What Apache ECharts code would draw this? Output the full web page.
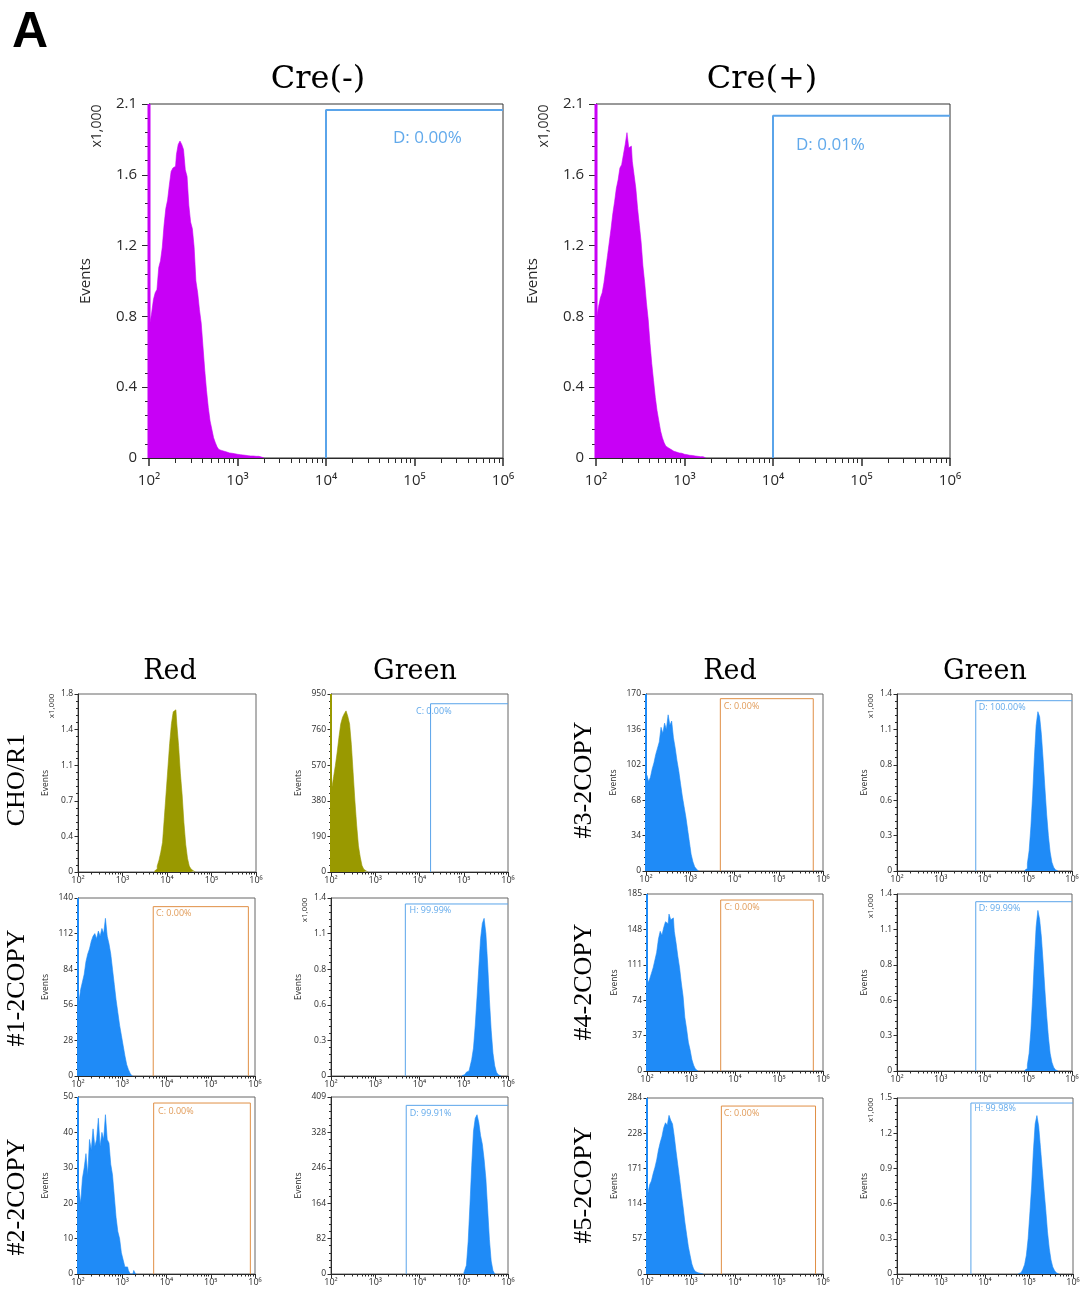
<!DOCTYPE html>
<html>
<head>
<meta charset="utf-8">
<script src="https://cdn.jsdelivr.net/npm/echarts@6/dist/echarts.min.js"></script>
<style>
  html, body { margin: 0; background: #fff; }
  #chart { width: 1080px; height: 1290px; }
</style>
</head>
<body>
<div id="chart"></div>
<script>
// ---- data (x = log10 of intensity, bins start at `...Start`, counts) ----
const decades = [2, 3, 4, 5, 6]
const decadeLabels = ['10²', '10³', '10⁴', '10⁵', '10⁶']

// Cre(-) / Cre(+), x1,000 events, 0.02 log bins from 10^2
const creNegCounts = [0.78, 0.80, 0.86, 0.94, 0.98, 1.00, 1.13, 1.17, 1.25, 1.38, 1.48, 1.53, 1.62, 1.70, 1.72, 1.73, 1.80, 1.86, 1.88, 1.86,
  1.83, 1.71, 1.67, 1.50, 1.40, 1.36, 1.25, 1.05, 0.98, 0.88, 0.80, 0.66, 0.52, 0.40, 0.30, 0.22, 0.17, 0.12, 0.09, 0.065,
  0.05, 0.045, 0.04, 0.035, 0.035, 0.03, 0.03, 0.028, 0.025, 0.025, 0.022, 0.02, 0.02, 0.018, 0.016, 0.015, 0.014, 0.012, 0.01, 0.012,
  0.01, 0.008, 0.01, 0.006, 0.008, 0]
const crePosCounts = [0.80, 0.84, 0.90, 0.95, 0.98, 1.04, 1.12, 1.20, 1.28, 1.36, 1.45, 1.52, 1.60, 1.65, 1.72, 1.74, 1.80, 1.86, 1.93, 1.84,
  1.85, 1.76, 1.68, 1.60, 1.48, 1.38, 1.28, 1.14, 1.04, 0.92, 0.82, 0.68, 0.56, 0.46, 0.36, 0.28, 0.22, 0.16, 0.12, 0.09,
  0.07, 0.06, 0.05, 0.045, 0.04, 0.035, 0.03, 0.03, 0.028, 0.025, 0.022, 0.02, 0.018, 0.016, 0.015, 0.012, 0.012, 0.01, 0.01, 0.008,
  0.008, 0.006, 0]
const creYLabels = ['0', '0.4', '0.8', '1.2', '1.6', '2.1']

// small panels, 0.04 log bins
const choRedStart = 3.72
const choRedCounts = [0.01, 0.03, 0.06, 0.12, 0.20, 0.30, 0.55, 0.80, 1.05, 1.30, 1.50, 1.62, 1.64, 1.50, 1.28, 1.00, 0.78, 0.50, 0.28, 0.14, 0.06, 0.03, 0.01, 0]
const choGreenStart = 2.0
const choGreenCounts = [380, 450, 510, 570, 640, 720, 790, 825, 845, 860, 830, 790, 680, 530, 380, 250, 140, 80, 35, 15, 5, 0]
const r3Start = 2.0
const r3Counts = [80, 92, 86, 90, 98, 104, 112, 118, 124, 138, 132, 142, 136, 150, 140, 144, 128, 118, 106, 96, 84, 72, 62, 52, 40, 28, 16, 9, 4, 2, 0]
const g3Start = 4.92
const g3Counts = [0.005, 0.02, 0.06, 0.16, 0.35, 0.60, 0.90, 1.15, 1.26, 1.22, 1.08, 0.88, 0.66, 0.45, 0.28, 0.15, 0.07, 0.03, 0.01, 0]
const r1Start = 2.0
const r1Counts = [50, 58, 68, 74, 80, 90, 96, 100, 106, 110, 112, 108, 114, 110, 116, 112, 124, 110, 104, 96, 84, 72, 60, 50, 40, 32, 24, 16, 9, 5, 2, 0]
const g1Start = 4.96
const g1Counts = [0.003, 0.01, 0.02, 0.03, 0.04, 0.07, 0.13, 0.22, 0.40, 0.62, 0.85, 1.08, 1.20, 1.24, 1.12, 0.88, 0.60, 0.36, 0.18, 0.08, 0.03, 0.01, 0]
const r4Start = 2.0
const r4Counts = [80, 92, 96, 102, 108, 116, 124, 138, 146, 142, 150, 156, 154, 164, 158, 160, 146, 134, 120, 108, 92, 78, 56, 44, 30, 22, 12, 6, 2, 0]
const g4Start = 4.92
const g4Counts = [0.005, 0.02, 0.05, 0.14, 0.32, 0.58, 0.88, 1.14, 1.27, 1.20, 1.06, 0.86, 0.64, 0.44, 0.27, 0.14, 0.07, 0.03, 0.01, 0]
const r2Start = 2.0
const r2Counts = [18, 24, 20, 27, 30, 34, 28, 38, 35, 41, 36, 38, 44, 36, 40, 38, 45, 38, 37, 31, 28, 22, 16, 12, 10, 6, 4, 2, 2, 1, 0, 0, 1, 0]
const g2Start = 5.0
const g2Counts = [2, 8, 20, 75, 160, 250, 330, 360, 368, 350, 320, 300, 265, 220, 150, 80, 30, 8, 0]
const r5Start = 2.0
const r5Counts = [112, 130, 144, 150, 162, 172, 184, 200, 212, 222, 236, 244, 240, 256, 248, 242, 222, 198, 176, 154, 130, 108, 84, 64, 44, 30, 16, 8, 4, 2, 1, 2, 0]
const g5Start = 4.76
const g5Counts = [0.003, 0.01, 0.02, 0.04, 0.08, 0.16, 0.30, 0.52, 0.75, 1.05, 1.28, 1.35, 1.26, 1.08, 0.90, 0.72, 0.55, 0.36, 0.22, 0.12, 0.06, 0.03, 0.01, 0]

const greenYLabels = ['0', '0.3', '0.6', '0.8', '1.1', '1.4']

// gates: x = gate edges (log10), y = top of gate, label placed at (tx, ty)
const creNegGate = { x: [4.0], y: 2.064, text: 'D: 0.00%', tx: 4.757, ty: 1.898 }
const crePosGate = { x: [4.0], y: 2.03, text: 'D: 0.01%', tx: 4.26, ty: 1.857 }
const choGreenGate = { x: [4.25], y: 898, text: 'C: 0.00%', tx: 3.92, ty: 859 }
const r3Gate = { x: [3.68, 5.78], y: 165.5, text: 'C: 0.00%', tx: 3.756, ty: 157.8 }
const g3Gate = { x: [3.80], y: 1.347, text: 'D: 100.00%', tx: 3.87, ty: 1.297 }
const r1Gate = { x: [3.70, 5.85], y: 133.2, text: 'C: 0.00%', tx: 3.76, ty: 127.6 }
const g1Gate = { x: [3.68], y: 1.353, text: 'H: 99.99%', tx: 3.774, ty: 1.30 }
const r4Gate = { x: [3.675, 5.78], y: 178.7, text: 'C: 0.00%', tx: 3.753, ty: 170.7 }
const g4Gate = { x: [3.80], y: 1.339, text: 'D: 99.99%', tx: 3.87, ty: 1.289 }
const r2Gate = { x: [3.71, 5.895], y: 48.3, text: 'C: 0.00%', tx: 3.81, ty: 45.9 }
const g2Gate = { x: [3.70], y: 389.7, text: 'D: 99.91%', tx: 3.78, ty: 370.4 }
const r5Gate = { x: [3.69, 5.83], y: 271, text: 'C: 0.00%', tx: 3.744, ty: 258.7 }
const g5Gate = { x: [3.68], y: 1.457, text: 'H: 99.98%', tx: 3.753, ty: 1.409 }

// ---- styles ----
const SANS = '"Open Sans", "Noto Sans", sans-serif'
const MAGENTA = '#c800f6'
const OLIVE = '#999900'
const BLUE = '#1f8bf7'
const GATE_BLUE = '#5aa4ea'
const GATE_ORANGE = '#e08f45'
const TEXT_BLUE = '#3a93e6'
const TEXT_ORANGE = '#d9822e'
const INK = '#2a2a2a'

const panels = [
  { counts: creNegCounts, start: 2.0, step: 0.02, yMax: 2.1, yLabels: creYLabels, thousand: true, color: MAGENTA, overflow: true, gate: creNegGate, box: [149, 104, 354, 354], big: true },
  { counts: crePosCounts, start: 2.0, step: 0.02, yMax: 2.1, yLabels: creYLabels, thousand: true, color: MAGENTA, overflow: true, gate: crePosGate, box: [596, 104, 354, 354], big: true },
  { counts: choRedCounts, start: choRedStart, step: 0.04, yMax: 1.8, yLabels: ['0', '0.4', '0.7', '1.1', '1.4', '1.8'], thousand: true, color: OLIVE, overflow: false, gate: null, box: [78, 694, 178, 178] },
  { counts: choGreenCounts, start: choGreenStart, step: 0.04, yMax: 950, yLabels: ['0', '190', '380', '570', '760', '950'], color: OLIVE, overflow: true, gate: choGreenGate, box: [331, 694, 177, 178] },
  { counts: r3Counts, start: r3Start, step: 0.04, yMax: 170, yLabels: ['0', '34', '68', '102', '136', '170'], color: BLUE, overflow: true, gate: r3Gate, box: [646, 694, 177, 177] },
  { counts: g3Counts, start: g3Start, step: 0.04, yMax: 1.4, yLabels: greenYLabels, thousand: true, color: BLUE, overflow: false, gate: g3Gate, box: [897, 694, 175, 177] },
  { counts: r1Counts, start: r1Start, step: 0.04, yMax: 140, yLabels: ['0', '28', '56', '84', '112', '140'], color: BLUE, overflow: true, gate: r1Gate, box: [78, 898, 177, 178] },
  { counts: g1Counts, start: g1Start, step: 0.04, yMax: 1.4, yLabels: greenYLabels, thousand: true, color: BLUE, overflow: false, gate: g1Gate, box: [331, 898, 177, 178] },
  { counts: r4Counts, start: r4Start, step: 0.04, yMax: 185, yLabels: ['0', '37', '74', '111', '148', '185'], color: BLUE, overflow: true, gate: r4Gate, box: [647, 894, 176, 177] },
  { counts: g4Counts, start: g4Start, step: 0.04, yMax: 1.4, yLabels: greenYLabels, thousand: true, color: BLUE, overflow: false, gate: g4Gate, box: [897, 894, 175, 177] },
  { counts: r2Counts, start: r2Start, step: 0.04, yMax: 50, yLabels: ['0', '10', '20', '30', '40', '50'], color: BLUE, overflow: true, gate: r2Gate, box: [78, 1097, 177, 177] },
  { counts: g2Counts, start: g2Start, step: 0.04, yMax: 409, yLabels: ['0', '82', '164', '246', '328', '409'], color: BLUE, overflow: false, gate: g2Gate, box: [331, 1097, 177, 177] },
  { counts: r5Counts, start: r5Start, step: 0.04, yMax: 284, yLabels: ['0', '57', '114', '171', '228', '284'], color: BLUE, overflow: true, gate: r5Gate, box: [647, 1098, 176, 176] },
  { counts: g5Counts, start: g5Start, step: 0.04, yMax: 1.5, yLabels: ['0', '0.3', '0.6', '0.9', '1.2', '1.5'], thousand: true, color: BLUE, overflow: false, gate: g5Gate, box: [897, 1098, 176, 176] }
]

// minor log ticks 2x..9x of each decade
const xMinor = []
for (let d = 2; d < 6; d++) {
  for (let m = 2; m <= 9; m++) xMinor.push(d + Math.log10(m))
}

const grid = []
const xAxis = []
const yAxis = []
const series = []
const graphic = []

panels.forEach((p, i) => {
  const [l, t, w, h] = p.box
  const big = !!p.big
  const yMajor = [0, 1, 2, 3, 4, 5].map(k => p.yMax * k / 5)
  const yMinor = []
  for (let k = 0; k <= 25; k++) yMinor.push(p.yMax * k / 25)

  grid.push({
    left: l, top: t, width: w, height: h,
    show: true, borderColor: big ? '#333' : '#666', borderWidth: 1, backgroundColor: '#fff',
    outerBoundsMode: 'none'
  })

  // major x axis with labels
  xAxis.push({
    type: 'value', gridIndex: i, position: 'bottom', min: 2, max: 6,
    axisLine: { show: true, lineStyle: { color: INK, width: 1 } },
    axisTick: { show: true, customValues: decades, length: big ? 8 : 4, lineStyle: { color: INK, width: big ? 1.5 : 1 } },
    axisLabel: {
      customValues: decades,
      formatter: v => decadeLabels[Math.round(v) - 2],
      fontSize: big ? 15 : 9, margin: big ? 15 : 4, color: INK, fontFamily: SANS
    },
    splitLine: { show: false }
  })
  // minor x ticks
  xAxis.push({
    type: 'value', gridIndex: i, position: 'bottom', min: 2, max: 6,
    axisLine: { show: false },
    axisTick: { show: true, customValues: xMinor, length: big ? 5 : 2.5, lineStyle: { color: INK } },
    axisLabel: { show: false },
    splitLine: { show: false }
  })

  yAxis.push({
    type: 'value', gridIndex: i, position: 'left', min: 0, max: p.yMax,
    axisLine: { show: true, lineStyle: { color: INK, width: 1 } },
    axisTick: { show: true, customValues: yMajor, length: big ? 7 : 3.5, lineStyle: { color: INK } },
    axisLabel: {
      customValues: yMajor,
      formatter: v => p.yLabels[Math.round(v / p.yMax * 5)],
      fontSize: big ? 15 : 8.5, margin: big ? 12 : 5, color: INK, fontFamily: SANS
    },
    splitLine: { show: false },
    name: 'Events', nameLocation: 'middle', nameRotate: 90, nameGap: big ? 56 : 28,
    nameMoveOverlap: false,
    nameTextStyle: { fontSize: big ? 15 : 8.5, color: INK, fontFamily: SANS }
  })
  yAxis.push({
    type: 'value', gridIndex: i, position: 'left', min: 0, max: p.yMax,
    axisLine: { show: false },
    axisTick: { show: true, customValues: yMinor, length: big ? 4 : 2, lineStyle: { color: INK } },
    axisLabel: { show: false },
    splitLine: { show: false }
  })

  // histogram
  series.push({
    type: 'line', xAxisIndex: 2 * i, yAxisIndex: 2 * i,
    data: p.counts.map((c, k) => [p.start + k * p.step, c]),
    step: 'middle', symbol: 'none', silent: true,
    lineStyle: { width: 0.6, color: p.color },
    areaStyle: { color: p.color, opacity: 1 },
    z: 3
  })

  // off-scale first bin at 10^2
  if (p.overflow) {
    series.push({
      type: 'line', xAxisIndex: 2 * i, yAxisIndex: 2 * i,
      data: [[2, 0], [2, p.yMax]], symbol: 'none', silent: true, clip: false,
      lineStyle: { width: big ? 3 : 2, color: p.color }, z: 4
    })
  }

  if (p.gate) {
    const g = p.gate
    const orange = g.x.length > 1
    const pts = orange
      ? [[g.x[0], 0], [g.x[0], g.y], [g.x[1], g.y], [g.x[1], 0]]
      : [[g.x[0], 0], [g.x[0], g.y], [6, g.y]]
    series.push({
      type: 'line', xAxisIndex: 2 * i, yAxisIndex: 2 * i,
      data: pts, symbol: 'none', silent: true,
      lineStyle: { width: big ? 2 : 1, color: orange ? GATE_ORANGE : GATE_BLUE }, z: 5
    })
    series.push({
      type: 'scatter', xAxisIndex: 2 * i, yAxisIndex: 2 * i,
      data: [[g.tx, g.ty]], symbolSize: 0, silent: true,
      itemStyle: { color: 'transparent' },
      label: {
        show: true, position: 'right', distance: 0, formatter: g.text,
        color: orange ? TEXT_ORANGE : TEXT_BLUE, fontSize: big ? 17 : 9, fontFamily: SANS
      },
      z: 6
    })
  }

  if (p.thousand) {
    graphic.push({
      type: 'text', x: l - (big ? 52 : 26), y: t + (big ? 22 : 12), rotation: Math.PI / 2,
      style: {
        text: 'x1,000', font: `${big ? 14 : 8}px ${SANS}`, fill: INK,
        textAlign: 'center', textVerticalAlign: 'middle', align: 'center', verticalAlign: 'middle'
      }
    })
  }
})

const SERIF = '"DejaVu Serif", serif'
const TIMES = '"Liberation Serif", serif'
const textItem = (text, x, y, font, rot) => ({
  type: 'text', x, y, rotation: rot || 0,
  style: { text, font, fill: '#000', textAlign: 'center', textVerticalAlign: 'middle', align: 'center', verticalAlign: 'middle' }
})

graphic.push(
  { type: 'text', x: 12, y: 8, style: { text: 'A', font: 'bold 50px "Liberation Sans", Arial, sans-serif', fill: '#000', textVerticalAlign: 'top', verticalAlign: 'top' } },
  textItem('Cre(-)', 318, 80, `32px ${SERIF}`),
  textItem('Cre(+)', 762, 80, `32px ${SERIF}`),
  textItem('Red', 170, 672, `27px ${SERIF}`),
  textItem('Green', 415, 672, `27px ${SERIF}`),
  textItem('Red', 730, 672, `27px ${SERIF}`),
  textItem('Green', 985, 672, `27px ${SERIF}`),
  textItem('CHO/R1', 17, 780, `26px ${TIMES}`, Math.PI / 2),
  textItem('#1-2COPY', 17, 988, `26px ${TIMES}`, Math.PI / 2),
  textItem('#2-2COPY', 17, 1197, `26px ${TIMES}`, Math.PI / 2),
  textItem('#3-2COPY', 584, 780, `26px ${TIMES}`, Math.PI / 2),
  textItem('#4-2COPY', 584, 982, `26px ${TIMES}`, Math.PI / 2),
  textItem('#5-2COPY', 584, 1185, `26px ${TIMES}`, Math.PI / 2)
)

const chart = echarts.init(document.getElementById('chart'), null, { renderer: 'canvas' })
chart.setOption({
  backgroundColor: '#fff',
  animation: false,
  grid, xAxis, yAxis, series, graphic
})
</script>
</body>
</html>
